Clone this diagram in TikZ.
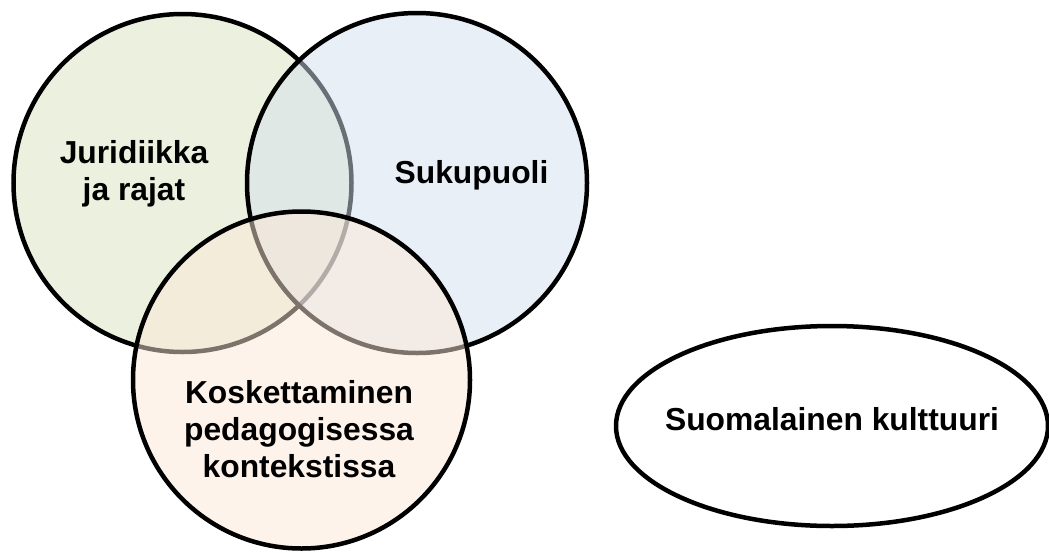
\documentclass[tikz,border=0pt]{standalone}
\usepackage{fontspec}
\setmainfont{Liberation Sans}
\usetikzlibrary{shapes.geometric}
\definecolor{vgreen}{HTML}{D7E4BD}
\definecolor{vblue}{HTML}{D4DFEE}
\definecolor{vorange}{HTML}{FBE7D7}
\begin{document}
\begin{tikzpicture}[x=1pt,y=-1pt,
  venn/.style={circle, draw=black, line width=4.5pt, fill opacity=0.5, inner sep=0pt, minimum size=#1},
  oval/.style={ellipse, draw=black, line width=4.5pt, inner sep=0pt, minimum width=432pt, minimum height=200pt},
  lbl/.style={font=\bfseries\fontsize{31.8}{37}\selectfont, align=center, anchor=base, inner sep=0pt}]
\useasboundingbox (0,0) rectangle (1049,552);
\node[venn=338pt, fill=vgreen] (jur) at (182.5,183) {};
\node[venn=340pt, fill=vblue] (suk) at (417,183) {};
\node[venn=337pt, fill=vorange] (kos) at (301.5,380) {};
\node[oval] (suo) at (832,426) {};
\node[lbl] (tjur) at (134,200) {Juridiikka\\ja rajat};
\node[lbl] (tsuk) at (471.5,183) {Sukupuoli};
\node[lbl] (tkos) at (299,477) {Koskettaminen\\pedagogisessa\\kontekstissa};
\node[lbl] (tsuo) at (832,430) {Suomalainen kulttuuri};
\end{tikzpicture}
\end{document}
